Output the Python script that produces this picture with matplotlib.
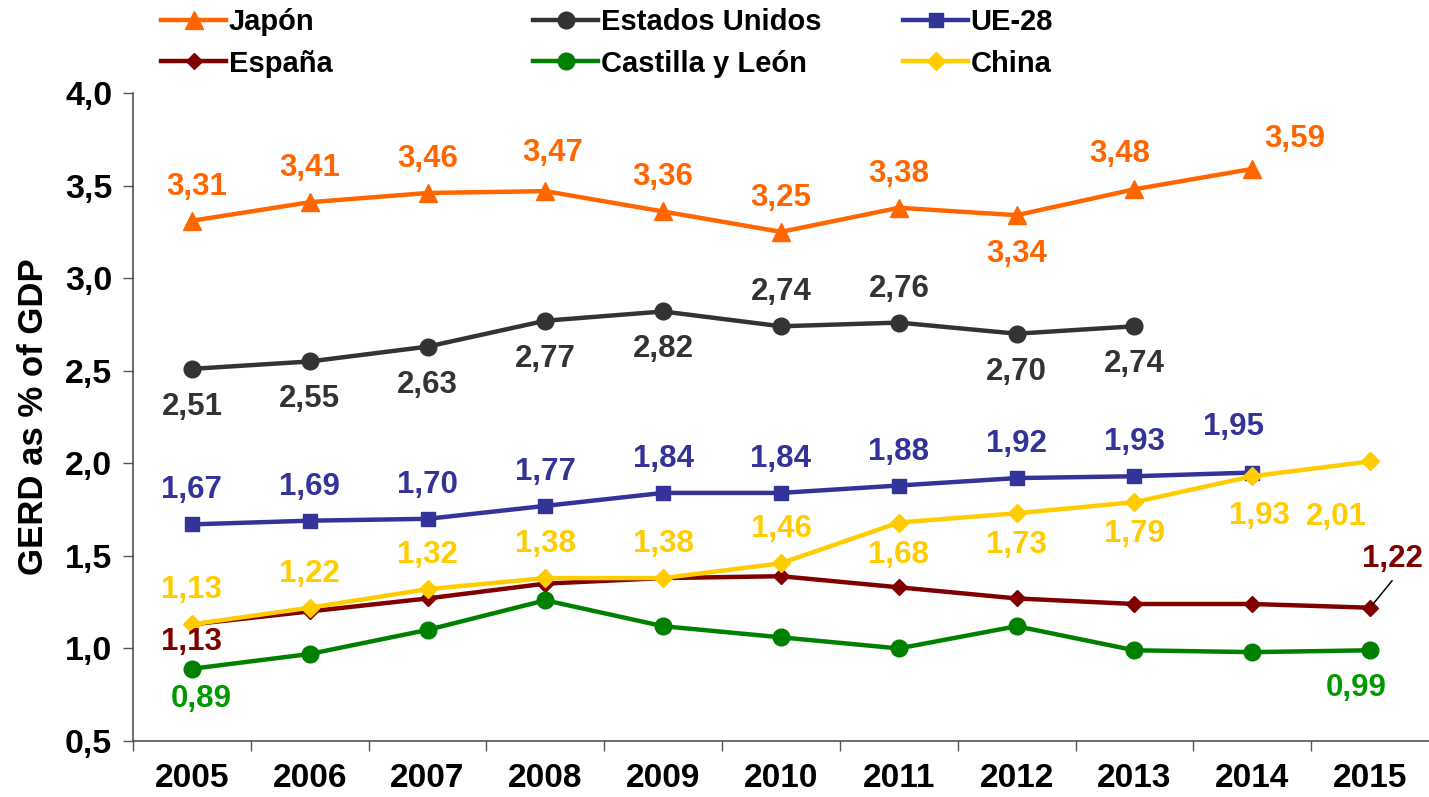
import matplotlib
matplotlib.use("Agg")
import matplotlib.pyplot as plt

plt.rcParams["font.family"] = ["Liberation Sans", "DejaVu Sans"]
plt.rcParams["font.weight"] = "bold"

years = ["2005", "2006", "2007", "2008", "2009", "2010", "2011", "2012", "2013", "2014", "2015"]

japon = [3.31, 3.41, 3.46, 3.47, 3.36, 3.25, 3.38, 3.34, 3.48, 3.59]
eeuu = [2.51, 2.55, 2.63, 2.77, 2.82, 2.74, 2.76, 2.70, 2.74]
ue28 = [1.67, 1.69, 1.70, 1.77, 1.84, 1.84, 1.88, 1.92, 1.93, 1.95]
espana = [1.13, 1.20, 1.27, 1.35, 1.38, 1.39, 1.33, 1.27, 1.24, 1.24, 1.22]
cyl = [0.89, 0.97, 1.10, 1.26, 1.12, 1.06, 1.00, 1.12, 0.99, 0.98, 0.99]
china = [1.13, 1.22, 1.32, 1.38, 1.38, 1.46, 1.68, 1.73, 1.79, 1.93, 2.01]

# which points get a value label (None = no label)
espana_lab = [1.13] + [None] * 9 + [1.22]
cyl_lab = [0.89] + [None] * 9 + [0.99]

# label offsets in pixels (dx, dy) from the marker
U, D = (0, 34), (0, -38)
off_jp = [(5, 34), U, U, (7, 38), U, U, U, (0, -39), (-15, 35), (42, 30)]
off_us = [D, D, D, D, D, U, U, D, D]
off_ue = [U, U, U, U, U, U, U, U, U, (-19, 46)]
off_es = [(0, -18)] + [None] * 9 + [(22, 49)]
off_cl = [(9, -30)] + [None] * 9 + [(-14, -38)]
off_cn = [U, U, U, U, U, U, (0, -32), (0, -32), (0, -32), (7, -40), (-34, -56)]

series = [
    ("Japón", japon, japon, off_jp, "#FF6600", "#FF6600", "^", 13),
    ("Estados Unidos", eeuu, eeuu, off_us, "#333333", "#333333", "o", 12),
    ("UE-28", ue28, ue28, off_ue, "#333399", "#333399", "s", 10),
    ("España", espana, espana_lab, off_es, "#800000", "#800000", "D", 8),
    ("Castilla y León", cyl, cyl_lab, off_cl, "#008000", "#009900", "o", 12),
    ("China", china, china, off_cn, "#FFCC00", "#FFCC00", "D", 9),
]

fig = plt.figure(figsize=(14.29, 7.97), dpi=100)
ax = fig.add_axes([133 / 1429, 1 - 741 / 797, 1 - 133 / 1429, (741 - 93) / 797])

handles = {}
for name, vals, labs, offs, col, tcol, mk, ms in series:
    x = list(range(len(vals)))
    h, = ax.plot(x, vals, color=col, lw=3.2, marker=mk, ms=ms, mec=col, mfc=col)
    handles[name] = h
    for i, (v, o) in enumerate(zip(labs, offs)):
        if v is None:
            continue
        ax.annotate(f"{v:.2f}".replace(".", ","), (i, vals[i]), xytext=o,
                    textcoords="offset pixels", ha="center", va="center",
                    color=tcol, fontsize=22.5, fontweight="bold", annotation_clip=False)

# leader line for España 2015
ax.annotate("", xy=(10, espana[10]), xytext=(22, 27), textcoords="offset pixels",
            arrowprops=dict(arrowstyle="-", color="black", lw=1.1, shrinkA=0, shrinkB=3),
            annotation_clip=False)

ax.set_xlim(-0.5, 10.5)
ax.set_ylim(0.5, 4.0)
ax.set_yticks([0.5, 1.0, 1.5, 2.0, 2.5, 3.0, 3.5, 4.0])
ax.set_yticklabels([f"{t:.1f}".replace(".", ",") for t in ax.get_yticks()],
                   fontsize=24.5, fontweight="bold")
ax.set_xticks(range(len(years)))
ax.set_xticklabels(years, fontsize=24, fontweight="bold")
ax.set_xticks([i - 0.5 for i in range(len(years))], minor=True)
ax.tick_params(axis="x", which="major", length=0, pad=16)
ax.tick_params(axis="x", which="minor", length=7, width=1, color="#555555", direction="out")
ax.tick_params(axis="y", length=7, width=1, color="#555555", pad=8)
for s in ["top", "right"]:
    ax.spines[s].set_visible(False)
for s in ["left", "bottom"]:
    ax.spines[s].set_color("#444444")
    ax.spines[s].set_linewidth(1.1)

fig.text(34 / 1429, 1 - 417 / 797, "GERD as % of GDP", rotation=90, ha="center", va="center",
         fontsize=25, fontweight="bold")

# legend: three columns placed like the original
cols = [(["Japón", "España"], 160), (["Estados Unidos", "Castilla y León"], 532), (["UE-28", "China"], 902)]
for names, px in cols:
    hs = [handles[n] for n in names]
    fig.legend(hs, names, loc="upper left", bbox_to_anchor=(px / 1429, 1 - 7 / 797),
               frameon=False, handlelength=2.2, handletextpad=0.1,
               borderaxespad=0, borderpad=0.05, labelspacing=0.45, markerscale=1.0,
               prop={"weight": "bold", "size": 21})

fig.savefig("out.png", dpi=100)
